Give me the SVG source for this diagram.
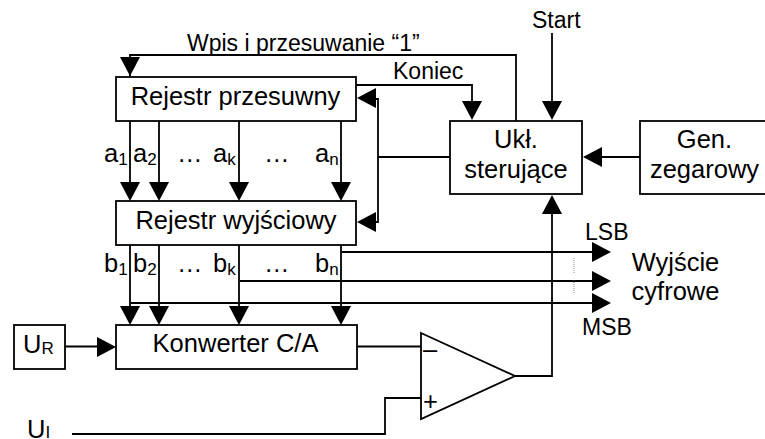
<svg xmlns="http://www.w3.org/2000/svg" width="765" height="439" viewBox="0 0 765 439">
<style>
.b{fill:#fff;stroke:#000;stroke-width:1.8}
.l{fill:none;stroke:#000;stroke-width:1.8}
text{font-family:"Liberation Sans",Arial,sans-serif;fill:#000;font-size:25.5px}
.m{text-anchor:middle}
.s{font-size:23px}
.sub{font-size:17px}
</style>
<defs>
<polygon id="d" points="-10,-19 10,-19 0,0" fill="#000"/>
<polygon id="r" points="-19,-10 -19,10 0,0" fill="#000"/>
<polygon id="lf" points="19,-10 19,10 0,0" fill="#000"/>
<polygon id="u" points="-10,19 10,19 0,0" fill="#000"/>
</defs>
<rect width="765" height="439" fill="#fff"/>
<g id="connectors">
<path class="l" d="M130 76V55H516V121"/>
<path class="l" d="M356 85H472V102"/>
<path class="l" d="M552 33V102"/>
<path class="l" d="M640 157H600"/>
<path class="l" d="M450 157H378"/>
<path class="l" d="M375 99H378V222H375"/>
<path class="l" d="M130 121V183M159 121V183M239 121V183M341 121V183"/>
<path class="l" d="M130 245V307M159 245V307M239 245V307M341 245V307"/>
<path class="l" d="M342 252H593M240 281H593M130 303H593"/>
<path class="l" d="M64 346.500H98"/>
<path class="l" d="M356 346.500H421"/>
<path class="l" d="M72 434H385V398H421"/>
<path class="l" d="M515 376H552V213"/>
<path d="M574 258V273M574 280V293" fill="none" stroke="#555" stroke-width="0.7" stroke-dasharray="1 1"/>
<use href="#d" x="130" y="76"/>
<use href="#d" x="472" y="120"/>
<use href="#d" x="552" y="120"/>
<use href="#lf" x="583" y="157"/>
<use href="#lf" x="357" y="98"/>
<use href="#lf" x="357" y="222"/>
<use href="#d" x="130" y="201"/><use href="#d" x="159" y="201"/><use href="#d" x="239" y="201"/><use href="#d" x="341" y="201"/>
<use href="#d" x="130" y="325"/><use href="#d" x="159" y="325"/><use href="#d" x="239" y="325"/><use href="#d" x="341" y="325"/>
<use href="#r" x="116" y="347"/>
<use href="#r" x="611" y="252"/><use href="#r" x="611" y="281"/><use href="#r" x="611" y="303"/>
<use href="#u" x="552" y="195"/>
</g>
<g id="rejestr-przesuwny"><rect class="b" x="116" y="77" width="240" height="44"/><text class="m" x="235.500" y="105">Rejestr przesuwny</text></g>
<g id="rejestr-wyjsciowy"><rect class="b" x="116" y="201" width="240" height="44"/><text class="m" x="236" y="229">Rejestr wyjściowy</text></g>
<g id="konwerter"><rect class="b" x="116" y="325" width="241" height="44"/><text class="m" x="235.500" y="352">Konwerter C/A</text></g>
<g id="ur"><rect class="b" x="14" y="325" width="51" height="44"/><text x="23" y="353">U<tspan class="sub" dy="1">R</tspan></text></g>
<g id="uklad"><rect class="b" x="450" y="121" width="132" height="73"/><text class="m" x="516" y="148">Ukł.</text><text class="m" x="516" y="178">sterujące</text></g>
<g id="generator"><rect class="b" x="640" y="121" width="130" height="73"/><text class="m" x="704.500" y="148">Gen.</text><text class="m" x="704.500" y="178">zegarowy</text></g>
<g id="komparator"><polygon class="b" points="421,333 515,376 421,419"/><text x="423" y="358" font-size="25">–</text><text x="423" y="410" font-size="25">+</text></g>
<g id="labels">
<text x="187" y="51" class="s">Wpis i przesuwanie “1”</text>
<text x="393" y="79" class="s">Koniec</text>
<text x="532" y="28" class="s">Start</text>
<text x="104" y="162">a<tspan class="sub" dy="3">1</tspan></text>
<text x="133" y="162">a<tspan class="sub" dy="3">2</tspan></text>
<text x="177" y="162">…</text>
<text x="213" y="162">a<tspan class="sub" dy="3">k</tspan></text>
<text x="264" y="162">…</text>
<text x="315" y="162">a<tspan class="sub" dy="3">n</tspan></text>
<text x="104" y="272">b<tspan class="sub" dy="3">1</tspan></text>
<text x="133" y="272">b<tspan class="sub" dy="3">2</tspan></text>
<text x="177" y="272">…</text>
<text x="213" y="272">b<tspan class="sub" dy="3">k</tspan></text>
<text x="264" y="272">…</text>
<text x="315" y="272">b<tspan class="sub" dy="3">n</tspan></text>
<text x="585" y="240" class="s">LSB</text>
<text x="582" y="335" class="s">MSB</text>
<text class="m" x="675.500" y="271">Wyjście</text>
<text class="m" x="675.500" y="300">cyfrowe</text>
<text x="27" y="438">U<tspan class="sub">I</tspan></text>
</g>
</svg>
